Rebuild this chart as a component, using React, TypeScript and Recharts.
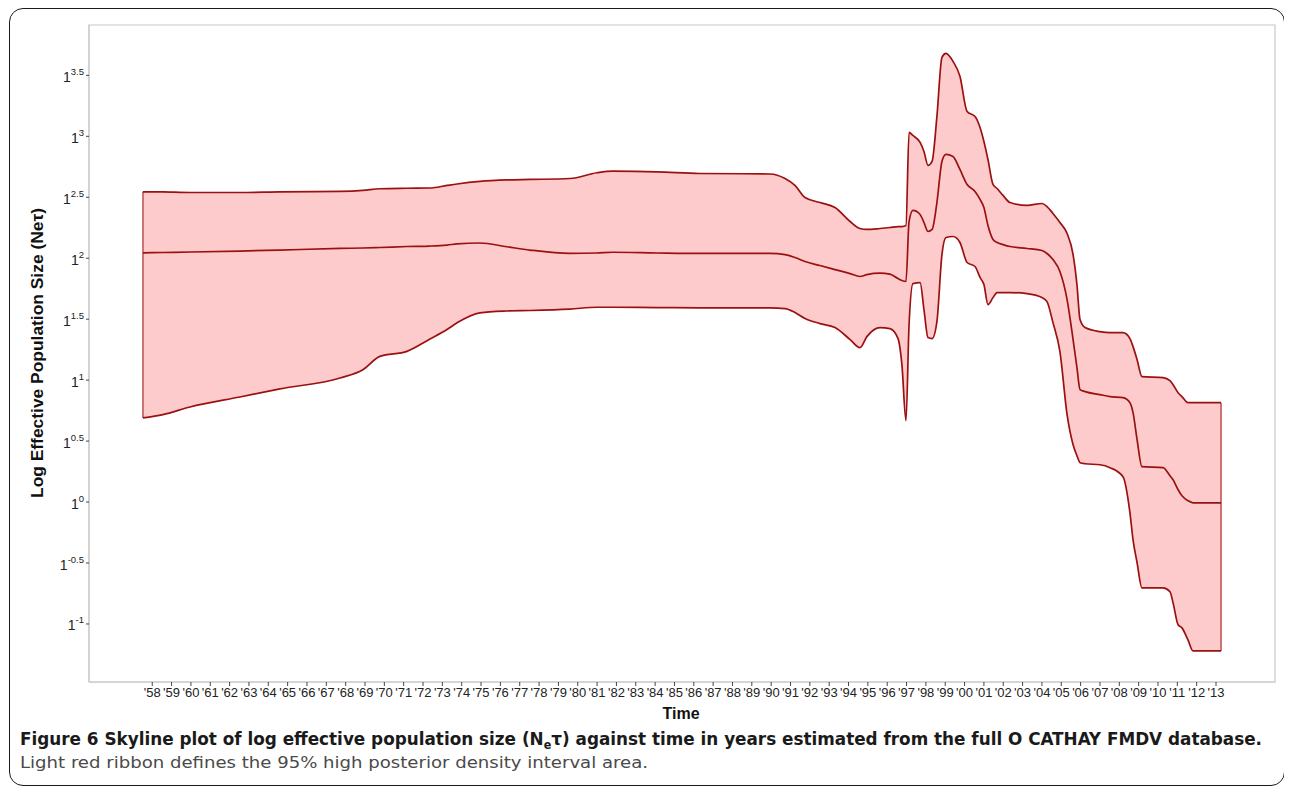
import React from 'react'
import {
  ComposedChart,
  Area,
  Line,
  XAxis,
  YAxis,
  ReferenceLine,
  ReferenceArea,
} from 'recharts'

// decimal year of each skyline step
const years = [
  1957.52, 1958.55, 1959.95, 1962.53, 1964.6, 1967.71, 1968.89, 1969.77, 1971.17, 1972.36,
  1973.24, 1973.76, 1974.94, 1976.34, 1977.53, 1979.6, 1980.99, 1981.82, 1984.1, 1986.32,
  1989.94, 1990.72, 1991.23, 1991.75, 1992.52, 1993.3, 1994.08, 1994.59, 1994.95, 1995.63,
  1996.14, 1996.56, 1996.76, 1996.97, 1997.13, 1997.33, 1997.7, 1997.9, 1998.11, 1998.32,
  1998.57, 1998.83, 1999.04, 1999.4, 1999.76, 2000.13, 2000.54, 2000.8, 2001.0, 2001.21,
  2001.47, 2001.68, 2001.99, 2002.35, 2003.23, 2004.0, 2004.26, 2004.57, 2004.93, 2005.3,
  2005.61, 2005.81, 2005.97, 2006.23, 2007.0, 2007.52, 2008.19, 2008.55, 2008.71, 2008.92,
  2009.17, 2010.26, 2010.62, 2010.78, 2011.04, 2011.24, 2011.55, 2011.81, 2013.26,
]

// upper bound of the 95% HPD interval (exponent of log Ne*tau)
const upperHpd = [
  2.545, 2.544, 2.539, 2.539, 2.544, 2.548, 2.556, 2.57, 2.574, 2.576,
  2.597, 2.609, 2.63, 2.642, 2.646, 2.654, 2.701, 2.714, 2.709, 2.695,
  2.691, 2.654, 2.597, 2.498, 2.457, 2.416, 2.301, 2.244, 2.236, 2.244,
  2.252, 2.26, 2.26, 2.268, 3.032, 3.007, 2.95, 2.876, 2.761, 2.794,
  3.163, 3.648, 3.681, 3.615, 3.492, 3.204, 3.163, 3.073, 2.958, 2.81,
  2.605, 2.572, 2.515, 2.457, 2.433, 2.449, 2.424, 2.367, 2.293, 2.203,
  2.03, 1.784, 1.497, 1.431, 1.398, 1.39, 1.39, 1.341, 1.275, 1.168,
  1.029, 1.021, 0.996, 0.963, 0.897, 0.865, 0.815, 0.815, 0.815,
]

const median = [
  2.044, 2.047, 2.051, 2.059, 2.067, 2.08, 2.084, 2.088, 2.096, 2.1,
  2.108, 2.117, 2.125, 2.094, 2.067, 2.039, 2.043, 2.049, 2.043, 2.039,
  2.039, 2.03, 2.006, 1.973, 1.94, 1.907, 1.874, 1.85, 1.866, 1.878,
  1.87, 1.833, 1.817, 1.809, 2.301, 2.392, 2.359, 2.293, 2.219, 2.236,
  2.457, 2.794, 2.851, 2.835, 2.728, 2.605, 2.548, 2.482, 2.416, 2.268,
  2.154, 2.129, 2.112, 2.096, 2.08, 2.063, 2.039, 1.989, 1.891, 1.661,
  1.333, 1.103, 0.922, 0.906, 0.881, 0.865, 0.856, 0.815, 0.733, 0.511,
  0.29, 0.282, 0.216, 0.183, 0.101, 0.052, 0.011, -0.006, -0.006,
]

// lower bound of the 95% HPD interval
const lowerHpd = [
  0.69, 0.717, 0.78, 0.862, 0.928, 1.018, 1.086, 1.195, 1.236, 1.337,
  1.415, 1.47, 1.552, 1.567, 1.571, 1.583, 1.598, 1.598, 1.595, 1.593,
  1.593, 1.587, 1.554, 1.505, 1.464, 1.431, 1.333, 1.267, 1.357, 1.431,
  1.423, 1.341, 1.127, 0.667, 1.456, 1.792, 1.8, 1.579, 1.349, 1.341,
  1.48, 2.03, 2.17, 2.178, 2.129, 1.965, 1.932, 1.842, 1.784, 1.62,
  1.677, 1.718, 1.718, 1.718, 1.71, 1.677, 1.644, 1.472, 1.234, 0.717,
  0.47, 0.38, 0.323, 0.314, 0.306, 0.282, 0.208, -0.088, -0.31, -0.498,
  -0.704, -0.704, -0.736, -0.827, -1.007, -1.032, -1.131, -1.221, -1.221,
]

const yTicks = [-1, -0.5, 0, 0.5, 1, 1.5, 2, 2.5, 3, 3.5]
const xTicks = Array.from({ length: 56 }, (_, i) => 1958 + i)

const X_DOMAIN: [number, number] = [1954.73, 2016.05]
const Y_DOMAIN: [number, number] = [-1.476, 3.913]

const RED = '#9b1111'
const FILL = '#fdcbcb'
const FRAME = '#c8c8c8'
const AXIS_FONT = 'Liberation Sans, Arial, sans-serif'
const CAPTION_FONT = 'Liberation Sans Narrow, DejaVu Sans Condensed, Liberation Sans, sans-serif'

const rows = years.map((year, i) => ({
  year,
  upper: upperHpd[i],
  median: median[i],
  lower: lowerHpd[i],
  band: [lowerHpd[i], upperHpd[i]],
}))

const xLabel = (v: number) => "'" + String(v % 100).padStart(2, '0')

function PowerTick(props: any) {
  const { x, y, payload } = props
  return (
    <text x={x} y={y} textAnchor="end" fill="#222" fontFamily={AXIS_FONT}>
      <tspan fontSize={14} dy={6.5}>1</tspan>
      <tspan fontSize={9.5} dy={-7}>{payload.value}</tspan>
    </text>
  )
}

export default function App() {
  return (
    <div style={{ position: 'relative', width: 1276, height: 780 }}>
      <div
        style={{
          position: 'absolute',
          left: 1,
          top: 0,
          width: 1276,
          height: 778,
          boxSizing: 'border-box',
          border: '1.5px solid #1a1a1a',
          borderRadius: 14,
        }}
      />
      <div style={{ position: 'absolute', left: 0, top: 0 }}>
        <ComposedChart
          width={1276}
          height={700}
          data={rows}
          margin={{ top: 17, right: 9, bottom: 0, left: 21 }}
        >
          <XAxis
            dataKey="year"
            type="number"
            domain={X_DOMAIN}
            ticks={xTicks}
            interval={0}
            tickFormatter={xLabel}
            height={26}
            tickSize={4}
            tickMargin={2}
            stroke={FRAME}
            tickLine={{ stroke: '#444' }}
            tick={{ fill: '#222', fontSize: 13, fontFamily: AXIS_FONT }}
            allowDataOverflow
          />
          <YAxis
            type="number"
            domain={Y_DOMAIN}
            ticks={yTicks}
            interval={0}
            width={60}
            tickSize={3}
            tickMargin={2}
            stroke={FRAME}
            tickLine={{ stroke: '#444' }}
            tick={<PowerTick />}
            allowDataOverflow
          />
          <ReferenceArea
            x1={X_DOMAIN[0]}
            x2={X_DOMAIN[1]}
            y1={Y_DOMAIN[0]}
            y2={Y_DOMAIN[1]}
            fill="none"
            stroke={FRAME}
            strokeWidth={1.2}
          />
          <Area
            dataKey="band"
            type="monotoneX"
            fill={FILL}
            fillOpacity={1}
            stroke="none"
            isAnimationActive={false}
          />
          <ReferenceLine
            segment={[
              { x: years[0], y: lowerHpd[0] },
              { x: years[0], y: upperHpd[0] },
            ]}
            stroke="#b03a3a"
            strokeWidth={1.3}
          />
          <ReferenceLine
            segment={[
              { x: years[years.length - 1], y: lowerHpd[lowerHpd.length - 1] },
              { x: years[years.length - 1], y: upperHpd[upperHpd.length - 1] },
            ]}
            stroke="#b03a3a"
            strokeWidth={1.3}
          />
          <Line dataKey="upper" type="monotoneX" stroke={RED} strokeWidth={1.7} dot={false} isAnimationActive={false} />
          <Line dataKey="median" type="monotoneX" stroke={RED} strokeWidth={1.7} dot={false} isAnimationActive={false} />
          <Line dataKey="lower" type="monotoneX" stroke={RED} strokeWidth={1.7} dot={false} isAnimationActive={false} />
        </ComposedChart>
      </div>
      <svg
        width={1276}
        height={780}
        style={{ position: 'absolute', left: 0, top: 0, pointerEvents: 'none' }}
      >
        <text
          transform="translate(35, 345) rotate(-90)"
          textAnchor="middle"
          fontFamily={AXIS_FONT}
          fontWeight="bold"
          fontSize={17}
          fill="#111"
          textLength={290}
          lengthAdjust="spacingAndGlyphs"
        >
          Log Effective Population Size (Neτ)
        </text>
        <text
          x={673}
          y={711}
          textAnchor="middle"
          fontFamily={AXIS_FONT}
          fontWeight="bold"
          fontSize={16}
          fill="#111"
        >
          Time
        </text>
        <text
          x={12}
          y={737}
          fontFamily={CAPTION_FONT}
          fontSize={18}
          fill="#1a1a1a"
          textLength={1242}
          lengthAdjust="spacingAndGlyphs"
        >
          <tspan fontWeight="bold">Figure 6 Skyline plot of log effective population size (N</tspan>
          <tspan fontWeight="bold" fontSize={12} dy={4}>e</tspan>
          <tspan fontWeight="bold" dy={-4}>τ) against time in years estimated from the full O CATHAY FMDV database.</tspan>
        </text>
        <text
          x={12}
          y={760}
          fontFamily={CAPTION_FONT}
          fontSize={16.5}
          fill="#4a4a4a"
          textLength={628}
          lengthAdjust="spacingAndGlyphs"
        >
          Light red ribbon defines the 95% high posterior density interval area.
        </text>
      </svg>
    </div>
  )
}
